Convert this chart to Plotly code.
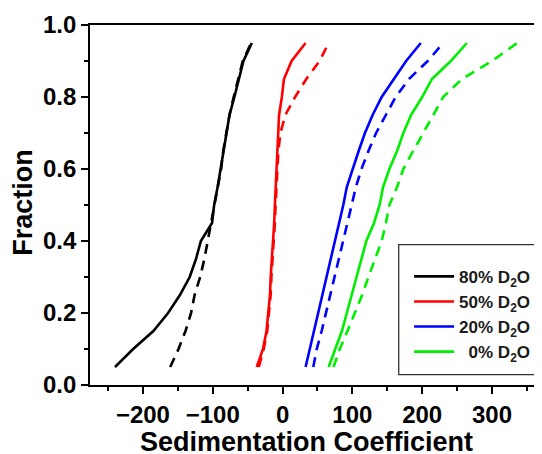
import plotly.graph_objects as go

# Cumulative fraction levels
fraction = [0.05, 0.10, 0.15, 0.20, 0.25, 0.30, 0.35, 0.40, 0.45, 0.50,
            0.55, 0.60, 0.65, 0.70, 0.75, 0.80, 0.85, 0.90, 0.95]

# Sedimentation coefficients (solid = series A, dashed = series B)
d2o80_solid = [-240, -214, -185, -164, -147, -133, -124, -117, -101, -98,
               -93, -89, -84, -80, -76, -69, -62, -56, -44]
d2o80_dash = [-161, -149, -139, -131, -126, -118, -112, -107, -102, -97,
              -92, -88, -85, -81, -76, -70, -63, -57, -45]
d2o50_solid = [-37, -28, -23, -20, -18, -17, -15, -14, -12, -11,
               -10, -9, -8, -7, -5, -1, 2, 13, 33]
d2o50_dash = [-34, -27, -22, -19, -17, -16, -14, -13, -11, -10,
              -9, -8, -6, -3, 4, 18, 34, 53, 66]
d2o20_solid = [33, 39, 46, 51, 58, 63, 69, 75, 81, 87,
               92, 100, 109, 118, 129, 142, 159, 177, 198]
d2o20_dash = [44, 49, 56, 62, 69, 75, 81, 87, 93, 99,
              105, 113, 123, 134, 148, 162, 181, 208, 230]
d2o0_solid = [66, 75, 85, 92, 99, 106, 113, 120, 131, 139,
              144, 153, 164, 173, 184, 200, 214, 241, 264]
d2o0_dash = [73, 82, 93, 104, 114, 123, 133, 142, 148, 153,
             164, 173, 187, 202, 216, 230, 257, 300, 336]

labels = ["80% D<sub>2</sub>O", "50% D<sub>2</sub>O", "20% D<sub>2</sub>O",
          "\u00a0\u00a00% D<sub>2</sub>O"]
colors = ["#000000", "#ff0000", "#0000ff", "#00ee00"]
solids = [d2o80_solid, d2o50_solid, d2o20_solid, d2o0_solid]
dashes = [d2o80_dash, d2o50_dash, d2o20_dash, d2o0_dash]

FONT = "Liberation Sans, Arial, sans-serif"

fig = go.Figure()
for lab, col, s in zip(labels, colors, solids):
    fig.add_trace(go.Scatter(x=s, y=fraction, mode="lines", name=lab,
                             line=dict(color=col, width=2.6)))
for lab, col, d in zip(labels, colors, dashes):
    fig.add_trace(go.Scatter(x=d, y=fraction, mode="lines", name=lab,
                             showlegend=False,
                             line=dict(color=col, width=2.6, dash="10px,7px")))

# page has an 8px body margin, so the figure is 8px smaller on each axis
fig.update_layout(
    width=534, height=446,
    margin=dict(l=82, r=0, t=17.3, b=68.7),
    paper_bgcolor="white", plot_bgcolor="white",
    showlegend=True,
    legend=dict(x=0.706, y=0.3506, xanchor="left", yanchor="top",
                bgcolor="rgba(0,0,0,0)", borderwidth=0,
                itemwidth=40, tracegroupgap=0,
                font=dict(family=FONT, size=17, color="#1a1a1a", weight="bold")),
    shapes=[dict(type="rect", xref="paper", yref="paper",
                 x0=0.683, x1=0.993, y0=0.0286, y1=0.3897,
                 line=dict(color="#333333", width=1.3))],
    annotations=[
        dict(text="Sedimentation Coefficient", xref="paper", yref="paper",
             x=(306 - 90) / 452, y=(385.3 - 442) / 360.0, showarrow=False,
             xanchor="center", yanchor="middle",
             font=dict(family=FONT, size=27, color="#000000", weight="bold")),
        dict(text="Fraction", xref="paper", yref="paper",
             x=(23 - 90) / 452, y=(385.3 - 203) / 360.0, showarrow=False,
             textangle=-90, xanchor="center", yanchor="middle",
             font=dict(family=FONT, size=27, color="#000000", weight="bold")),
    ],
)

fig.update_xaxes(range=[-275.8, 371.6], dtick=100, tick0=0,
                 showgrid=False, zeroline=False,
                 showline=True, linecolor="#000000", linewidth=1.8, mirror=True,
                 ticks="outside", ticklen=7, tickwidth=1.5, tickcolor="#000000",
                 minor=dict(dtick=50, tick0=50, ticks="outside", ticklen=4,
                            tickwidth=1.5, tickcolor="#000000", showgrid=False),
                 tickfont=dict(family=FONT, size=24, color="#000000", weight="bold"))
fig.update_yaxes(range=[0, 1], dtick=0.2, tick0=0, tickformat=".1f",
                 showgrid=False, zeroline=False,
                 showline=True, linecolor="#000000", linewidth=1.8, mirror=False,
                 ticks="outside", ticklen=7, tickwidth=1.5, tickcolor="#000000",
                 minor=dict(dtick=0.1, tick0=0.1, ticks="outside", ticklen=4,
                            tickwidth=1.5, tickcolor="#000000", showgrid=False),
                 tickfont=dict(family=FONT, size=24, color="#000000", weight="bold"))

fig.write_html("out.html")
